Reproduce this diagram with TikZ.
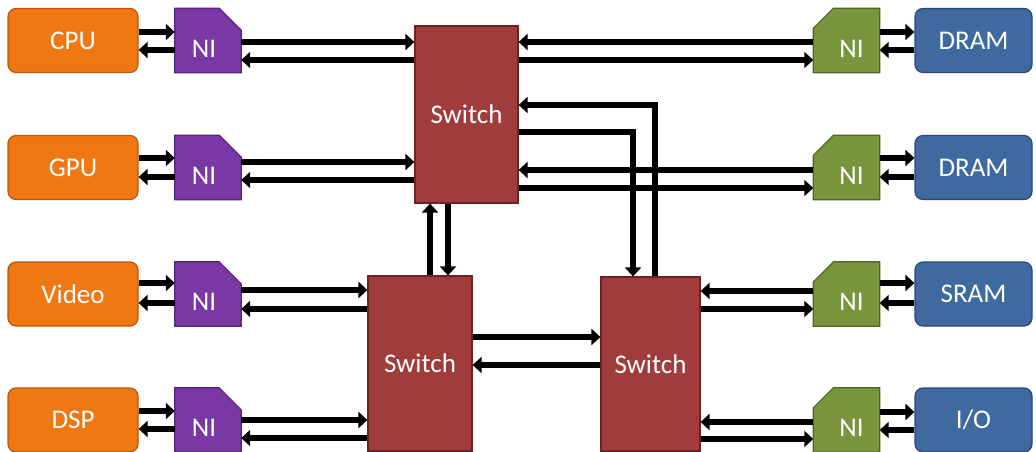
\documentclass[tikz,border=0pt]{standalone}
\usepackage{fontspec}
\setmainfont{Carlito}
\usetikzlibrary{arrows.meta,backgrounds}
\definecolor{orgc}{RGB}{240,120,18}
\definecolor{orgd}{RGB}{190,85,10}
\definecolor{purc}{RGB}{122,56,164}
\definecolor{purd}{RGB}{85,35,120}
\definecolor{grnc}{RGB}{120,148,60}
\definecolor{grnd}{RGB}{80,100,35}
\definecolor{bluc}{RGB}{62,106,160}
\definecolor{blud}{RGB}{40,72,115}
\definecolor{swc}{RGB}{160,60,60}
\definecolor{swd}{RGB}{110,35,35}
\begin{document}
\begin{tikzpicture}[x=1pt,y=-1pt,
  lbl/.style={text=white, font=\fontsize{27}{32}\selectfont},
  srcbox/.style={lbl, rounded corners=8pt, fill=orgc, draw=orgd, line width=1.2pt, minimum width=130pt, minimum height=64pt, inner sep=0pt},
  membox/.style={lbl, rounded corners=8pt, fill=bluc, draw=blud, line width=1.2pt, minimum width=117pt, minimum height=64pt, inner sep=0pt},
  nibox/.style={minimum width=66pt, minimum height=64pt, inner sep=0pt},
  swbox/.style={lbl, fill=swc, draw=swd, line width=1.2pt, inner sep=0pt},
  arr/.style={line width=6pt, -{Triangle[length=9pt,width=16pt]}},
]
\useasboundingbox (0,0) rectangle (1036,452);

% sources and memories
\node[srcbox] (s1) at (73,40.5) {CPU};
\node[srcbox] (s2) at (73,167.5) {GPU};
\node[srcbox] (s3) at (73,294) {Video};
\node[srcbox] (s4) at (73,420) {DSP};
\node[membox] (m1) at (973.5,40.5) {DRAM};
\node[membox] (m2) at (973.5,167.5) {DRAM};
\node[membox] (m3) at (973.5,294) {SRAM};
\node[membox] (m4) at (973.5,420) {I/O};

% network interfaces
\foreach \i/\y in {1/40.5,2/167.5,3/294,4/420}{
  \node[nibox, label={[lbl,xshift=-4pt,yshift=-8pt]center:NI}] (p\i) at (208,\y) {};
  \node[nibox, label={[lbl,xshift=5pt,yshift=-8pt]center:NI}] (g\i) at (846.5,\y) {};
}
\begin{scope}[on background layer]
\foreach \i in {1,2,3,4}{
  \filldraw[fill=purc, draw=purd, line width=1.2pt] (p\i.south west) -- (p\i.north west) -- ([xshift=-22pt]p\i.north east) -- ([yshift=-22pt]p\i.north east) -- (p\i.south east) -- cycle;
  \filldraw[fill=grnc, draw=grnd, line width=1.2pt] (g\i.south east) -- (g\i.north east) -- ([xshift=20pt]g\i.north west) -- ([yshift=-20pt]g\i.north west) -- (g\i.south west) -- cycle;
}
\end{scope}

% switches
\node[swbox, minimum width=103pt, minimum height=177pt] (swt) at (466.5,114.5) {Switch};
\node[swbox, minimum width=104pt, minimum height=175pt] (swl) at (420,363.5) {Switch};
\node[swbox, minimum width=99pt, minimum height=174pt] (swr) at (650.5,364) {Switch};

% left side connectors
\foreach \i/\a/\b/\c/\d/\s in {1/32/50/42/60/swt, 2/158/177/162/180/swt, 3/283/303/290/309/swl, 4/411/429/420/438/swl}{
  \draw[arr] (s\i.east |- 0,\a) -- (p\i.west |- 0,\a);
  \draw[arr] (p\i.west |- 0,\b) -- (s\i.east |- 0,\b);
  \draw[arr] (p\i.east |- 0,\c) -- (\s.west |- 0,\c);
  \draw[arr] (\s.west |- 0,\d) -- (p\i.east |- 0,\d);
}
% right side connectors
\foreach \i/\a/\b/\c/\d/\s in {1/32/50/42/60/swt, 2/158/177/170/188/swt, 3/283/303/291/309/swr, 4/412/430/422/439/swr}{
  \draw[arr] (g\i.east |- 0,\a) -- (m\i.west |- 0,\a);
  \draw[arr] (m\i.west |- 0,\b) -- (g\i.east |- 0,\b);
  \draw[arr] (g\i.west |- 0,\c) -- (\s.east |- 0,\c);
  \draw[arr] (\s.east |- 0,\d) -- (g\i.west |- 0,\d);
}

% switch to switch
\draw[arr] (swl.north -| 430,0) -- (swt.south -| 430,0);
\draw[arr] (swt.south -| 448,0) -- (swl.north -| 448,0);
\draw[arr] (swl.east |- 0,337) -- (swr.west |- 0,337);
\draw[arr] (swr.west |- 0,365) -- (swl.east |- 0,365);
\draw[arr] (swt.east |- 0,132) -| (swr.north -| 633,0);
\draw[arr] (swr.north -| 655,0) |- (swt.east |- 0,105);
\end{tikzpicture}
\end{document}
